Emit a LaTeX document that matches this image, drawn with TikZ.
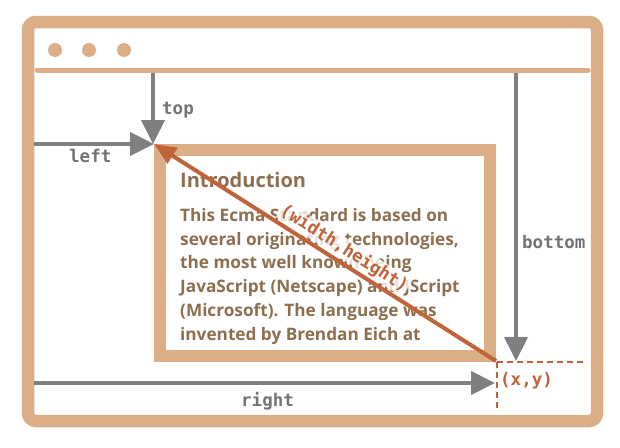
\documentclass[tikz,border=0pt]{standalone}
\usepackage{fontspec}
\setmainfont{Open Sans}
\newfontfamily\monofont{DejaVu Sans Mono}
\usetikzlibrary{arrows.meta}
\definecolor{frame}{HTML}{DBAE88}
\definecolor{arrgray}{HTML}{7F7F7F}
\definecolor{labgray}{HTML}{737373}
\definecolor{redor}{HTML}{C1633A}
\definecolor{brown}{HTML}{8D6E4F}
\tikzset{
  x=1pt, y=-1pt,
  grayarrow/.style={draw=arrgray, line width=4pt, -{Triangle[length=24pt,width=23pt]}},
  redarrow/.style={draw=redor, line width=4pt, -{Triangle[length=22pt,width=18pt]}},
  monolab/.style={font=\monofont\bfseries\fontsize{17.5}{19}\selectfont, text=labgray, inner sep=0pt, anchor=base west},
  bodytext/.style={font=\bfseries\fontsize{17.2}{19}\selectfont, text=brown, inner sep=0pt, anchor=base west},
  dashline/.style={draw=redor, line width=2.5pt, dash pattern=on 6pt off 4pt},
}
\begin{document}
\begin{tikzpicture}
\useasboundingbox (0,0) rectangle (620,447);
% outer window frame
\draw[frame, line width=12.5pt, rounded corners=8pt] (28,22) rectangle (597,421);
\draw[frame, line width=5pt, line cap=round] (37,70) -- (588,70);
\foreach \cx in {55,89,124} \fill[frame] (\cx,50) circle (7pt);
% key points
\coordinate (tl) at (154,144);
\coordinate (br) at (496,361);
\coordinate (topstart) at (153,73);
\coordinate (topend) at (153,144);
\coordinate (leftstart) at (34,144);
\coordinate (botstart) at (516,73);
\coordinate (botend) at (516,361);
\coordinate (rightstart) at (34,383);
\coordinate (rightend) at (495,383);
% inner box
\draw[frame, line width=12pt] (160,150) rectangle (490,355.5);
\node[bodytext, font=\bfseries\fontsize{20}{22}\selectfont] (title) at (180,187) {Introduction};
\node[bodytext] (l1) at (180,221.5) {This Ecma Standard is based on};
\node[bodytext] (l2) at (180,245.2) {several originating technologies,};
\node[bodytext] (l3) at (180,268.9) {the most well known being};
\node[bodytext] (l4) at (180,292.6) {JavaScript (Netscape) and JScript};
\node[bodytext] (l5) at (180,316.3) {(Microsoft). The language was};
\node[bodytext] (l6) at (180,340) {invented by Brendan Eich at};
% gray arrows
\draw[grayarrow] (topstart) -- (topend);
\draw[grayarrow] (leftstart) -- (tl);
\draw[grayarrow] (botstart) -- (botend);
\draw[grayarrow] (rightstart) -- (rightend);
\node[monolab] (toplab) at (162,114) {top};
\node[monolab] (leftlab) at (69,162) {left};
\node[monolab] (botlab) at (522,248) {bottom};
\node[monolab] (rightlab) at (241,406) {right};
% red diagonal
\draw[redarrow] (br) -- (tl);
\path (tl) -- (br) node[pos=0.535, sloped, above=3.5pt, inner sep=1pt, fill=white, fill opacity=0.8, text opacity=1, text=redor, font=\monofont\bfseries\fontsize{17.5}{19}\selectfont] (whlab) {(width,height)};
% dashed corner
\coordinate (dashh) at (583,362);
\coordinate (dashv) at (497,411);
\coordinate (dashc) at (497,362);
\draw[dashline] (dashc) -- (dashh);
\draw[dashline] (dashc) -- (dashv);
\node[monolab, text=redor] (xylab) at (500,385) {(x,y)};
\end{tikzpicture}
\end{document}
